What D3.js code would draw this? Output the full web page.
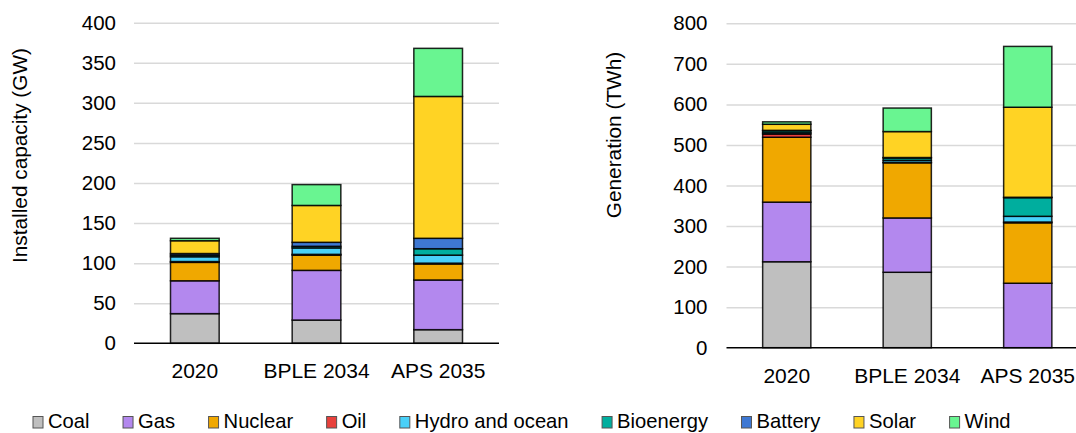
<!DOCTYPE html>
<html><head><meta charset="utf-8">
<script src="https://cdn.jsdelivr.net/npm/d3@7"></script>
<style>
body{margin:0;background:#fff;}
svg text{font-family:"Liberation Sans",Arial,sans-serif;fill:#000;}
</style></head>
<body><svg id="c" width="1076" height="433"></svg>
<script>
const categories = ["2020", "BPLE 2034", "APS 2035"];
const seriesNames = ["Coal", "Gas", "Nuclear", "Oil", "Hydro and ocean", "Bioenergy", "Battery", "Solar", "Wind"];
const seriesColors = ["#BFBFBF", "#B388EE", "#F0A800", "#E8413C", "#49D0F8", "#00AE9E", "#3E78D3", "#FFD324", "#69F591"];

// Installed capacity (GW)
const coalCap    = [37, 29, 17];
const gasCap     = [41, 62, 62];
const nuclearCap = [23, 19, 20];
const oilCap     = [1, 1, 1];
const hydroCap   = [6, 8, 10];
const bioCap     = [2, 2, 8];
const batteryCap = [2, 5, 13];
const solarCap   = [16, 46, 177];
const windCap    = [3, 26, 60];

// Generation (TWh)
const coalGen    = [212, 186, 0];
const gasGen     = [147, 134, 159];
const nuclearGen = [160, 136, 149];
const oilGen     = [8, 1, 2];
const hydroGen   = [3, 5, 14];
const bioGen     = [5, 6, 46];
const batteryGen = [1, 1, 1];
const solarGen   = [15, 64, 222];
const windGen    = [6, 58, 150];

const capTicks = [0, 50, 100, 150, 200, 250, 300, 350, 400];
const genTicks = [0, 100, 200, 300, 400, 500, 600, 700, 800];

const capSeries = [coalCap, gasCap, nuclearCap, oilCap, hydroCap, bioCap, batteryCap, solarCap, windCap];
const genSeries = [coalGen, gasGen, nuclearGen, oilGen, hydroGen, bioGen, batteryGen, solarGen, windGen];

const svg = d3.select("#c");
const FONT = "Liberation Sans, Arial, sans-serif";

function drawPanel(opts) {
  const {series, ticks, x0, x1, yTop, yBot, title, titleX, titleY, labelRight} = opts;
  const rows = categories.map((c, i) => {
    const o = {cat: c};
    seriesNames.forEach((s, j) => o[s] = series[j][i]);
    return o;
  });
  const stack = d3.stack().keys(seriesNames)(rows);
  const x = d3.scaleBand().domain(categories).range([x0, x1]).paddingInner(0.6).paddingOuter(0.3);
  const y = d3.scaleLinear().domain([0, ticks[ticks.length - 1]]).range([yBot, yTop]);
  const g = svg.append("g");

  // gridlines + y labels
  const yAxis = d3.axisLeft(y).tickValues(ticks).tickSize(-(Math.min(x1, 1076) - x0)).tickPadding(labelRight);
  const ga = g.append("g").attr("transform", `translate(${x0},0)`).call(yAxis);
  ga.select(".domain").remove();
  ga.selectAll(".tick line").attr("stroke", "#d9d9d9").attr("stroke-width", 1.5);
  ga.selectAll(".tick text").attr("font-size", 20.5).attr("font-family", FONT).attr("fill", "#000");
  ga.selectAll(".tick").filter(d => d === 0).select("line").remove();

  // bars
  stack.forEach((layer, j) => {
    g.append("g").selectAll("rect").data(layer).join("rect")
      .attr("x", d => x(d.data.cat))
      .attr("width", x.bandwidth())
      .attr("y", d => y(d[1]))
      .attr("height", d => Math.max(0, y(d[0]) - y(d[1])))
      .attr("fill", seriesColors[j])
      .attr("stroke", "#000")
      .attr("stroke-width", 1.5)
      .attr("stroke-opacity", 0.85);
  });

  // x axis
  const xAxis = d3.axisBottom(x).tickSize(0).tickPadding(20);
  const gx = g.append("g").attr("transform", `translate(0,${yBot})`).call(xAxis);
  gx.select(".domain").attr("d", `M${x0},0H${Math.min(x1, 1076)}`).attr("stroke", "#000").attr("stroke-width", 1.5);
  gx.selectAll(".tick text").attr("font-size", 21).attr("font-family", FONT).attr("fill", "#000");

  // title
  g.append("text").attr("transform", `translate(${titleX},${titleY}) rotate(-90)`)
    .attr("text-anchor", "middle").attr("dominant-baseline", "central")
    .attr("font-size", 20.8).text(title);
}

drawPanel({series: capSeries, ticks: capTicks, x0: 134, x1: 499, yTop: 22.7, yBot: 343.3,
  title: "Installed capacity (GW)", titleX: 19.5, titleY: 155.5, labelRight: 18});
drawPanel({series: genSeries, ticks: genTicks, x0: 726.5, x1: 1088, yTop: 23.3, yBot: 347.7,
  title: "Generation (TWh)", titleX: 613, titleY: 135, labelRight: 19});

// legend
const lg = svg.append("g");
let lx = 33;
seriesNames.forEach((s, j) => {
  lg.append("rect").attr("x", lx).attr("y", 416.5).attr("width", 10).attr("height", 11.5)
    .attr("fill", seriesColors[j]).attr("stroke", "#555").attr("stroke-width", 1);
  const t = lg.append("text").attr("x", lx + 15).attr("y", 428.3)
    .attr("font-size", 20.2).text(s);
  lx += 15 + t.node().getComputedTextLength() + 33.5;
});
</script></body></html>
